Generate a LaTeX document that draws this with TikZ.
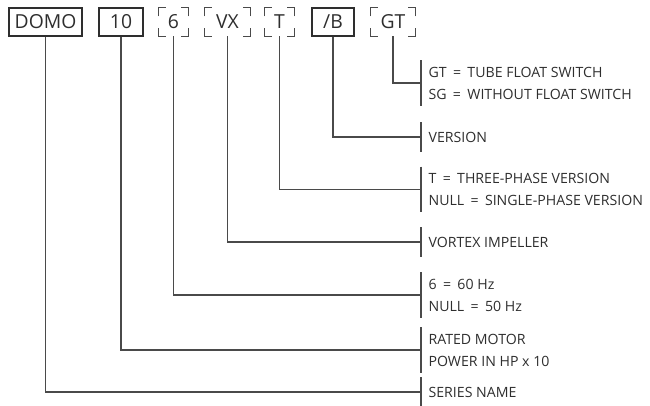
\documentclass[tikz,border=0pt]{standalone}
\usepackage{fontspec}
\setmainfont{Open Sans}
\definecolor{lc}{HTML}{4A4A4A}
\definecolor{tc}{HTML}{2E2E2E}
\newcommand\eqs{\hspace{0.45em}=\hspace{0.45em}}
\newcommand\brk[1]{%
  \draw[conn] ([yshift=-6.5pt]#1.north west) -- (#1.north west) -- ([xshift=5.5pt]#1.north west);
  \draw[conn] ([yshift=-6.5pt]#1.north east) -- (#1.north east) -- ([xshift=-5.5pt]#1.north east);
  \draw[conn] ([yshift=6pt]#1.south west) -- (#1.south west) -- ([xshift=5.5pt]#1.south west);
  \draw[conn] ([yshift=6pt]#1.south east) -- (#1.south east) -- ([xshift=-5.5pt]#1.south east);}
\begin{document}
\begin{tikzpicture}[x=0.75pt,y=-0.75pt,
  conn/.style={draw=lc, line width=1pt},
  code/.style={font=\fontsize{14.5}{17}\selectfont, text=tc, minimum height=21pt, inner sep=0pt, anchor=center},
  solidbox/.style={code, draw=tc, line width=0.9pt},
  lab/.style={anchor=west, align=left, font=\fontsize{10.6}{16.5}\selectfont, inner xsep=5.5pt, inner ysep=0pt, text=tc},
  two/.style={lab, minimum height=33.75pt},
  one/.style={lab, minimum height=22pt}]
\useasboundingbox (0,0) rectangle (650,405);
% code boxes
\node[solidbox, minimum width=54.75pt] (domo) at (45.5,22) {DOMO};
\node[solidbox, minimum width=33pt] (ten) at (121,22) {10};
\node[code, minimum width=21.75pt] (six) at (173.5,22) {6};
\node[code, minimum width=33.75pt] (vx) at (227.5,22) {VX};
\node[code, minimum width=21.75pt] (tt) at (279.5,22) {T};
\node[solidbox, minimum width=31.5pt] (b) at (333,22) {/B};
\node[code, minimum width=33pt] (gt) at (393,22) {GT};
\brk{six}\brk{vx}\brk{tt}\brk{gt}
% labels
\node[two] (lgt) at (421,83) {GT\eqs TUBE FLOAT SWITCH\\SG\eqs WITHOUT FLOAT SWITCH};
\node[one] (lb) at (421,137) {VERSION};
\node[two] (ltt) at (421,189.5) {T\eqs THREE-PHASE VERSION\\NULL\eqs SINGLE-PHASE VERSION};
\node[one] (lvx) at (421,242) {VORTEX IMPELLER};
\node[two] (lsix) at (421,295) {6\eqs 60 Hz\\NULL\eqs 50 Hz};
\node[two] (lten) at (421,350) {RATED MOTOR\\POWER IN HP x 10};
\node[one] (ldomo) at (421,392) {SERIES NAME};
% bars
\foreach \n in {lgt,lb,ltt,lvx,lsix,lten,ldomo}
  \draw[conn] (\n.north west) -- (\n.south west);
% connectors
\draw[conn] (gt.south) |- (lgt.west);
\draw[conn] (b.south) |- (lb.west);
\draw[conn] (tt.south) |- (ltt.west);
\draw[conn] (vx.south) |- (lvx.west);
\draw[conn] (six.south) |- (lsix.west);
\draw[conn] (ten.south) |- (lten.west);
\draw[conn] (domo.south) |- (ldomo.west);
\end{tikzpicture}
\end{document}
